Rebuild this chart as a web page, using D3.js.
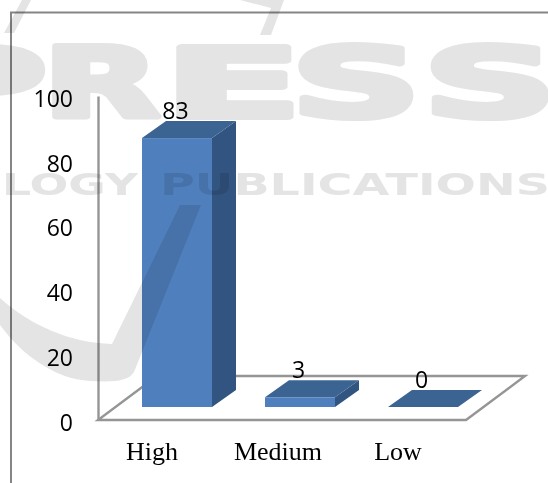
<!DOCTYPE html>
<html>
<head>
<meta charset="utf-8">
<script src="https://cdn.jsdelivr.net/npm/d3@7"></script>
<style>
  html, body { margin: 0; padding: 0; background: #fff; }
  svg { display: block; }
</style>
</head>
<body>
<div id="chart"></div>
<script>
// Rating counts shown on the chart
const categories = ["High", "Medium", "Low"];
const values = [83, 3, 0];
const yTicks = [0, 20, 40, 60, 80, 100];

const width = 548, height = 483;
const svg = d3.select("#chart").append("svg")
  .attr("width", width).attr("height", height);

// Scales for the pseudo-3D plot
const y = d3.scaleLinear().domain([0, 100]).range([420, 96]);
const x = d3.scalePoint().domain(categories).range([177, 423]);
const xLabel = d3.scalePoint().domain(categories).range([152, 398]);

const axisColor = "#959595";
const barWidth = 70;
const barDepth = { dx: 24, dy: 17 };
const floorDepth = { dx: 59, dy: 44 };
const floorLift = 13; // bars stand this far behind the front edge of the floor
const floorRight = 466;

// Outer frame, open on the right and at the bottom
svg.append("path")
  .attr("d", "M11,483V12.5H548")
  .attr("fill", "none").attr("stroke", "#858585").attr("stroke-width", 2);

// Floor outline
const floorLeft = 98, y0 = y(0);
svg.append("path")
  .attr("d", d3.line()([
    [floorLeft + floorDepth.dx, y0 - floorDepth.dy],
    [floorRight + floorDepth.dx, y0 - floorDepth.dy],
    [floorRight, y0],
    [floorLeft, y0],
    [floorLeft + floorDepth.dx, y0 - floorDepth.dy]
  ]))
  .attr("fill", "none").attr("stroke", axisColor).attr("stroke-width", 2.4);

// Value axis
const yAxis = svg.append("g")
  .attr("transform", `translate(${floorLeft},0)`)
  .call(d3.axisLeft(y).tickValues(yTicks).tickSize(0).tickPadding(25));
yAxis.select(".domain").attr("stroke", axisColor).attr("stroke-width", 2.4);
yAxis.selectAll("text")
  .attr("dy", "0.36em")
  .attr("y", 2)
  .attr("fill", "#000")
  .style("font-family", "'Open Sans', sans-serif")
  .style("font-size", "23px");

// Bars: side, top and front faces
const bars = svg.selectAll("g.bar")
  .data(categories.map((c, i) => ({ c, v: values[i] })))
  .join("g").attr("class", "bar");

const corners = d => {
  const l = x(d.c) - barWidth / 2, r = l + barWidth;
  const b = y0 - floorLift, t = y(d.v) - floorLift;
  return { l, r, b, t };
};

bars.append("path").attr("fill", "#325480").attr("d", d => {
  const { r, b, t } = corners(d);
  return d3.line()([[r, b], [r + barDepth.dx, b - barDepth.dy], [r + barDepth.dx, t - barDepth.dy], [r, t]]) + "Z";
});
bars.append("path").attr("fill", "#3c6493").attr("d", d => {
  const { l, r, t } = corners(d);
  return d3.line()([[l, t], [r, t], [r + barDepth.dx, t - barDepth.dy], [l + barDepth.dx, t - barDepth.dy]]) + "Z";
});
bars.append("rect").attr("fill", "#4f80bd")
  .attr("x", d => corners(d).l)
  .attr("y", d => corners(d).t)
  .attr("width", barWidth)
  .attr("height", d => corners(d).b - corners(d).t);

// Value labels above each bar
bars.append("text")
  .attr("x", d => x(d.c) - 1.5)
  .attr("y", d => corners(d).t - barDepth.dy - 2)
  .attr("text-anchor", "middle")
  .attr("fill", "#000")
  .style("font-family", "'Open Sans', sans-serif")
  .style("font-size", "23px")
  .text(d => d.v);

// Category labels
svg.selectAll("text.cat")
  .data(categories)
  .join("text").attr("class", "cat")
  .attr("x", d => xLabel(d) + (d === "Medium" ? 3 : 0))
  .attr("y", 460)
  .attr("text-anchor", "middle")
  .attr("fill", "#000")
  .style("font-family", "'Liberation Serif', serif")
  .style("font-size", "26px")
  .text(d => d);

// Publisher watermark laid over everything
const mark = svg.append("g")
  .style("mix-blend-mode", "multiply")
  .attr("fill", "#e4e4e4")
  .attr("stroke", "#e4e4e4")
  .attr("stroke-linejoin", "round");

// Each big letter is stretched to its own slot: [glyph, left, width]
const bigLetters = [
  ["P", -83, 130], ["R", 43, 117], ["E", 164, 138], ["S", 291, 130], ["S", 423, 134]
];
mark.selectAll("text.big").data(bigLetters).join("text").attr("class", "big")
  .attr("x", d => d[1]).attr("y", 117)
  .attr("textLength", d => d[2]).attr("lengthAdjust", "spacingAndGlyphs")
  .attr("stroke-width", 6)
  .style("font-family", "'DejaVu Sans', sans-serif")
  .style("font-weight", "700").style("font-size", "97px")
  .text(d => d[0]);

const smallWords = [["LOGY", 2, 136], ["PUBLICATIONS", 160, 390]];
mark.selectAll("text.small").data(smallWords).join("text").attr("class", "small")
  .attr("x", d => d[1]).attr("y", 195)
  .attr("textLength", d => d[2]).attr("lengthAdjust", "spacingAndGlyphs")
  .attr("stroke-width", 0)
  .style("font-family", "'DejaVu Sans', sans-serif")
  .style("font-weight", "700").style("font-size", "31px")
  .text(d => d[0]);

// Swoosh of the logo and its upper strokes
const swoosh = mark.append("g").attr("stroke", "none");
swoosh.append("path").attr("d",
  "M0,298 C30,325 70,343 112,344 L180,205 L201,205 L134,372 C128,382 112,382 90,381 C55,379 22,355 0,325 Z");
swoosh.append("path").attr("d", "M4,33 L22,0 L31,0 L14,33 Z");
swoosh.append("path").attr("d", "M260,35 L271,8 L240,0 L284,0 L271,35 Z");
</script>
</body>
</html>
